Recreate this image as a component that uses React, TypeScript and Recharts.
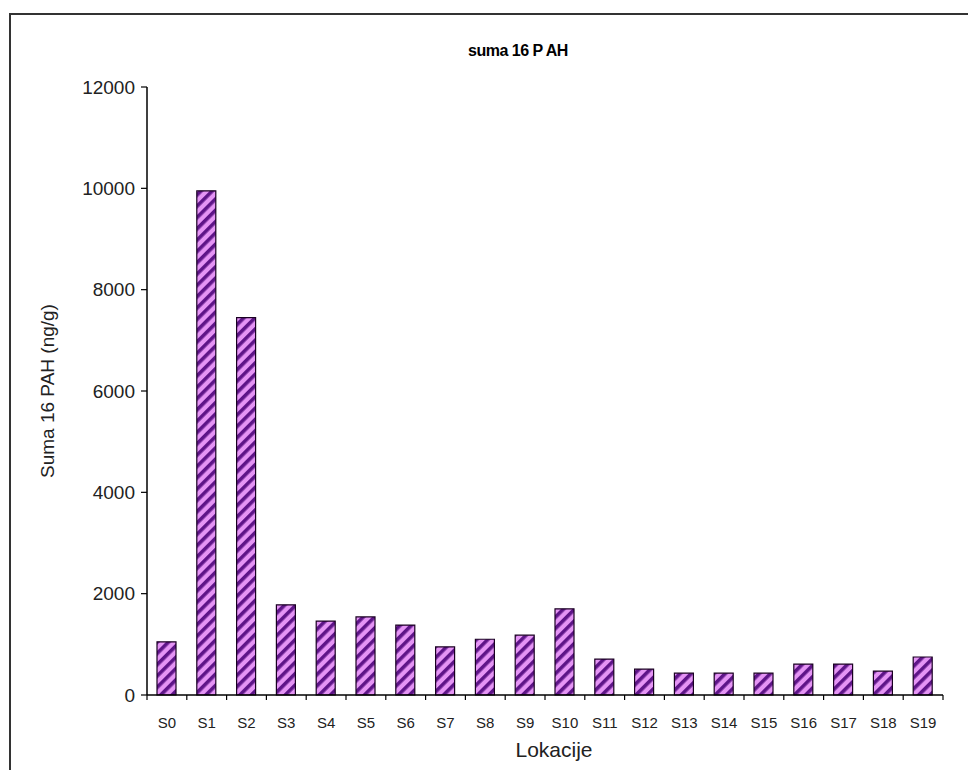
import React from "react";
import { BarChart, Bar, XAxis, YAxis } from "recharts";

const categories = ["S0","S1","S2","S3","S4","S5","S6","S7","S8","S9","S10","S11","S12","S13","S14","S15","S16","S17","S18","S19"];
const values = [1050, 9950, 7450, 1780, 1460, 1540, 1380, 950, 1100, 1180, 1700, 710, 510, 430, 430, 430, 610, 610, 470, 750];
const yTicks = [0, 2000, 4000, 6000, 8000, 10000, 12000];

const title = "suma 16 P AH";
const yTitle = "Suma 16 PAH (ng/g)";
const xTitle = "Lokacije";

const data = categories.map((c, i) => ({ name: c, value: values[i] }));

const FONT = "'Liberation Sans', Arial, sans-serif";

const XTick = (props: any) => {
  const { x, y, payload, index } = props;
  const off = payload && typeof payload.offset === "number" && payload.offset > 0 ? payload.offset : 19.9;
  return (
    <g>
      <line x1={x - off} x2={x - off} y1={y} y2={y + 5} stroke="#000" strokeWidth={1.2} />
      {index === categories.length - 1 && (
        <line x1={x + off} x2={x + off} y1={y} y2={y + 5} stroke="#000" strokeWidth={1.2} />
      )}
      <text x={x} y={y + 33} textAnchor="middle" fontFamily={FONT} fontSize={15} fill="#222">
        {payload.value}
      </text>
    </g>
  );
};

export default function App() {
  return (
    <div style={{ position: "relative", width: 960, height: 762, overflow: "hidden", background: "#fff" }}>
      <div
        style={{
          position: "absolute",
          left: 1,
          top: 5,
          width: 1000,
          height: 800,
          borderTop: "2px solid #333",
          borderLeft: "2px solid #333",
        }}
      />
      <div
        style={{
          position: "absolute",
          left: 0,
          width: 1020,
          top: 34,
          textAlign: "center",
          fontFamily: FONT,
          fontWeight: "bold",
          fontSize: 16,
          letterSpacing: -0.5,
          color: "#000",
        }}
      >
        {title}
      </div>
      <div
        style={{
          position: "absolute",
          left: 40,
          top: 384,
          width: 0,
          height: 0,
        }}
      >
        <div
          style={{
            position: "absolute",
            left: -150,
            top: -12,
            width: 300,
            textAlign: "center",
            transform: "rotate(-90deg)",
            fontFamily: FONT,
            fontSize: 19,
            color: "#222",
            whiteSpace: "nowrap",
          }}
        >
          {yTitle}
        </div>
      </div>
      <div
        style={{
          position: "absolute",
          left: 364,
          width: 364,
          top: 730,
          textAlign: "center",
          fontFamily: FONT,
          fontSize: 21,
          color: "#222",
        }}
      >
        {xTitle}
      </div>
      <div style={{ position: "absolute", left: 0, top: 0 }}>
        <BarChart
          width={960}
          height={762}
          data={data}
          margin={{ top: 79, right: 25, bottom: 0, left: 0 }}
          barCategoryGap={0}
        >
          <defs>
            <pattern id="hatch" patternUnits="userSpaceOnUse" width="8" height="8" patternTransform="rotate(45)">
              <rect x="0" y="0" width="8" height="8" fill="#e594f5" />
              <rect x="0" y="0" width="3.6" height="8" fill="#5e1488" />
            </pattern>
          </defs>
          <XAxis
            dataKey="name"
            height={75}
            axisLine={{ stroke: "#000", strokeWidth: 1.5 }}
            tickLine={false}
            tickSize={0}
            tickMargin={0}
            tick={<XTick />}
            interval={0}
          />
          <YAxis
            width={139}
            domain={[0, 12000]}
            ticks={yTicks}
            interval={0}
            axisLine={{ stroke: "#000", strokeWidth: 1.5 }}
            tickLine={{ stroke: "#000", strokeWidth: 1.2 }}
            tickSize={6}
            tickMargin={6}
            tick={{ fontFamily: FONT, fontSize: 19, fill: "#222" }}
          />
          <Bar
            dataKey="value"
            barSize={19}
            fill="url(#hatch)"
            stroke="#1a0022"
            strokeWidth={1.2}
            isAnimationActive={false}
          />
        </BarChart>
      </div>
    </div>
  );
}
